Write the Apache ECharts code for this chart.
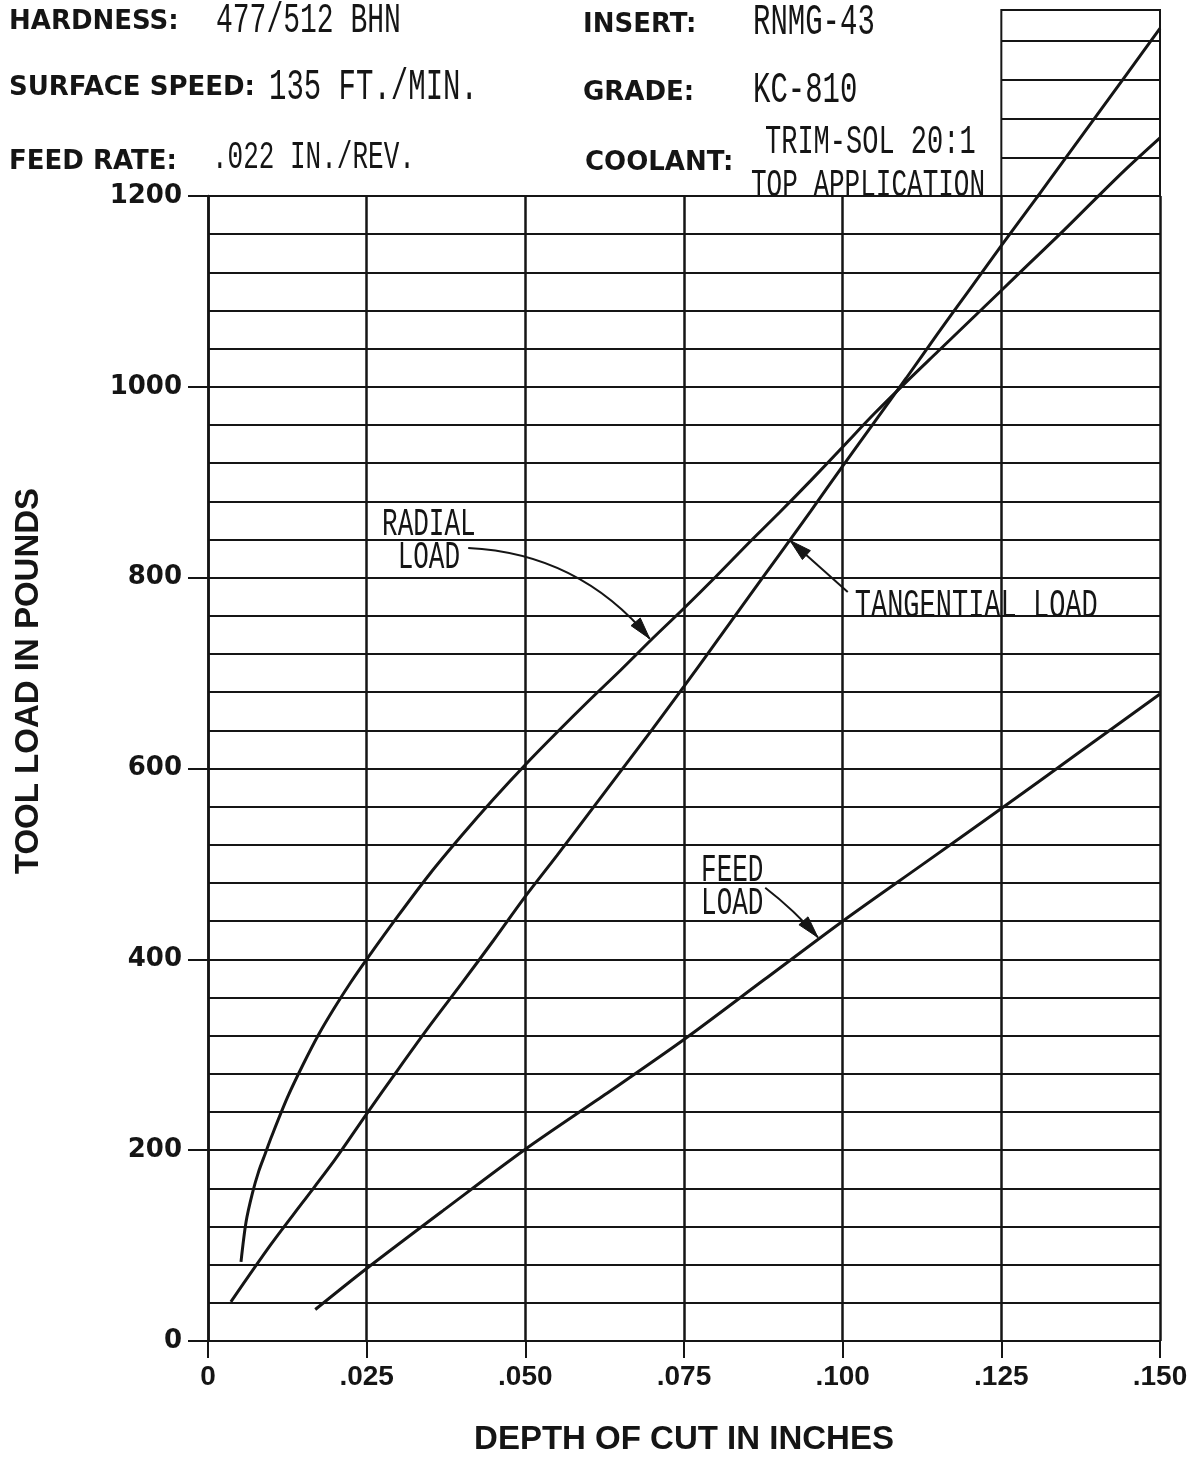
<!DOCTYPE html>
<html>
<head>
<meta charset="utf-8">
<script src="https://cdn.jsdelivr.net/npm/echarts@6/dist/echarts.min.js"></script>
<style>
  html, body { margin: 0; padding: 0; background: #ffffff; }
  #chart { width: 1198px; height: 1461px; }
</style>
</head>
<body>
<div id="chart"></div>
<script>
// Tool load (pounds) against depth of cut (inches)
const radialDepth = [0.0052, 0.0060, 0.0070, 0.0080, 0.0090, 0.0100, 0.0125, 0.0150, 0.0175, 0.0200, 0.0225, 0.025, 0.030, 0.035, 0.040, 0.045, 0.050, 0.055, 0.060, 0.065, 0.070, 0.075, 0.080, 0.085, 0.090, 0.095, 0.100, 0.105, 0.110, 0.115, 0.120, 0.125, 0.130, 0.135, 0.140, 0.145, 0.150];
const radialLoad  = [83, 125, 155, 178, 196, 214, 255, 290, 322, 350, 376, 400, 446, 490, 530, 568, 604, 638, 671, 703, 736, 768, 801, 835, 868, 902, 937, 972, 1005, 1037, 1069, 1101, 1133, 1165, 1198, 1230, 1260];

const tangentialDepth = [0.0036, 0.010, 0.015, 0.020, 0.025, 0.030, 0.035, 0.040, 0.045, 0.050, 0.055, 0.060, 0.065, 0.070, 0.075, 0.080, 0.085, 0.090, 0.095, 0.100, 0.105, 0.110, 0.115, 0.120, 0.125, 0.130, 0.135, 0.140, 0.145, 0.150];
const tangentialLoad  = [41, 102, 146, 190, 238, 285, 331, 375, 420, 466, 509, 553, 597, 641, 686, 732, 778, 824, 870, 917, 963, 1009, 1056, 1102, 1148, 1193, 1238, 1283, 1328, 1373];

const feedDepth = [0.0169, 0.025, 0.0375, 0.050, 0.0625, 0.075, 0.0875, 0.100, 0.1125, 0.125, 0.1375, 0.150];
const feedLoad  = [33, 76, 139, 201, 258, 316, 378, 440, 499, 558, 618, 678];

const specLabels = ['HARDNESS:', 'SURFACE SPEED:', 'FEED RATE:', 'INSERT:', 'GRADE:', 'COOLANT:'];
const specValues = ['477/512 BHN', '135 FT./MIN.', '.022 IN./REV.', 'RNMG-43', 'KC-810', 'TRIM-SOL 20:1', 'TOP APPLICATION'];

const depthMax = 0.150;
const loadMax = 1200;
const boxDepthMin = 0.125;   // the column that continues above 1200 lb
const boxLoadMax = 1392;

const INK = '#151515';
const BOLD_FONT = 'DejaVu Sans';
const HAND_FONT = "'Liberation Mono', 'DejaVu Sans Mono', monospace";

const pairs = (xs, ys) => xs.map((x, i) => [x, ys[i]]);

// plot frame in pixels
const plotLeft = 208, plotRight = 1160, plotTop = 196, plotBottom = 1358;
const W = 1198, H = 1461;
const boxLeft = plotLeft + (plotRight - plotLeft) * (boxDepthMin / depthMax);
const boxTop = plotBottom - (plotBottom - plotTop) * (boxLoadMax / loadMax);

const curveStyle = { color: INK, width: 3 };

function curve(name, data, grid) {
  return {
    name: name,
    type: 'line',
    data: data,
    xAxisIndex: grid === 0 ? 0 : 1,
    yAxisIndex: grid === 0 ? 0 : 2,
    showSymbol: false,
    symbol: 'none',
    smooth: 0.3,
    clip: true,
    lineStyle: curveStyle,
    itemStyle: { color: INK },
    emphasis: { disabled: true },
    z: 5
  };
}

const radial = pairs(radialDepth, radialLoad);
const tangential = pairs(tangentialDepth, tangentialLoad);
const feed = pairs(feedDepth, feedLoad);

const depthLabel = v => (Math.abs(v) < 1e-9 ? '0' : v.toFixed(3).replace(/^0/, ''));

const chart = echarts.init(document.getElementById('chart'), null, { renderer: 'canvas' });

const headerFont = { fontFamily: BOLD_FONT, fontWeight: 'bold', fontSize: 26, fill: INK };
function boldText(text, x, y) {
  return { type: 'text', x: x, y: y, silent: true,
    style: Object.assign({ text: text, align: 'left', verticalAlign: 'middle' }, headerFont) };
}
function handText(text, x, y, size, align, lineHeight) {
  return { type: 'text', x: x, y: y, scaleY: 1.5, silent: true, z: 20,
    style: { text: text, fontFamily: HAND_FONT, fontSize: size, fill: INK,
      align: align || 'left', verticalAlign: 'middle', lineHeight: lineHeight || size } };
}

const headerGraphics = [
  boldText(specLabels[0], 9, 22),
  handText(specValues[0], 216, 21, 28),
  boldText(specLabels[1], 9, 88),
  handText(specValues[1], 269, 87, 29),
  boldText(specLabels[2], 9, 162),
  handText(specValues[2], 212, 158, 26),
  boldText(specLabels[3], 583, 25),
  handText(specValues[3], 753, 22, 29),
  boldText(specLabels[4], 583, 93),
  handText(specValues[4], 753, 90, 29),
  boldText(specLabels[5], 585, 163),
  handText(specValues[5], 765, 142, 27),
  handText(specValues[6], 751, 186, 26),
  { type: 'text', x: 29, y: 681, rotation: Math.PI / 2, silent: true,
    style: { text: 'TOOL LOAD IN POUNDS', fontFamily: 'Liberation Sans', fontWeight: 'bold',
      fontSize: 33, fill: INK, align: 'center', verticalAlign: 'middle' } }
];

chart.setOption({
  animation: false,
  backgroundColor: '#ffffff',
  grid: [
    { left: plotLeft, right: W - plotRight, top: plotTop, bottom: H - plotBottom, containLabel: false },
    { left: boxLeft, right: W - plotRight, top: boxTop, bottom: H - plotTop, containLabel: false,
      show: true, borderColor: INK, borderWidth: 2, backgroundColor: 'transparent' }
  ],
  xAxis: [
    {
      type: 'value', gridIndex: 0, min: 0, max: depthMax, interval: 0.025,
      name: 'DEPTH OF CUT IN INCHES', nameLocation: 'middle', nameGap: 82,
      nameTextStyle: { fontFamily: 'Liberation Sans', fontWeight: 'bold', fontSize: 33, color: INK },
      axisLine: { show: true, onZero: false, lineStyle: { color: INK, width: 2 } },
      axisTick: { show: true, length: 17, lineStyle: { color: INK, width: 2 } },
      axisLabel: { margin: 22, formatter: depthLabel, fontFamily: 'Liberation Sans', fontWeight: 'bold', fontSize: 28, color: INK },
      splitLine: { show: true, lineStyle: { color: INK, width: 2.5 } }
    },
    {
      type: 'value', gridIndex: 1, min: boxDepthMin, max: depthMax, interval: 0.025,
      axisLine: { show: false }, axisTick: { show: false }, axisLabel: { show: false }, splitLine: { show: false }
    }
  ],
  yAxis: [
    {
      type: 'value', gridIndex: 0, min: 0, max: loadMax, interval: 40,
      axisLine: { show: true, onZero: false, lineStyle: { color: INK, width: 2.5 } },
      axisTick: { show: false }, axisLabel: { show: false },
      splitLine: { show: true, lineStyle: { color: INK, width: 2 } }
    },
    {
      type: 'value', gridIndex: 0, min: 0, max: loadMax, interval: 200, position: 'left',
      axisLine: { show: false },
      axisTick: { show: true, length: 20, lineStyle: { color: INK, width: 2 } },
      axisLabel: { margin: 26, formatter: v => String(v), fontFamily: BOLD_FONT, fontWeight: 'bold', fontSize: 26, color: INK },
      splitLine: { show: false }
    },
    {
      type: 'value', gridIndex: 1, min: loadMax, max: boxLoadMax, interval: 40,
      axisLine: { show: false }, axisTick: { show: false }, axisLabel: { show: false },
      splitLine: { show: true, lineStyle: { color: INK, width: 2 } }
    }
  ],
  series: [
    curve('Radial load', radial, 0),
    curve('Tangential load', tangential, 0),
    curve('Feed load', feed, 0),
    curve('Radial load', radial, 1),
    curve('Tangential load', tangential, 1),
    curve('Feed load', feed, 1)
  ],
  graphic: headerGraphics
});

// curve labels and their leader arrows, placed in data coordinates
const notes = [
  { text: 'RADIAL\nLOAD', at: [0.0348, 838], align: 'center', size: 26 },
  { text: 'TANGENTIAL LOAD', at: [0.1019, 770], align: 'left', size: 27 },
  { text: 'FEED\nLOAD', at: [0.0826, 476], align: 'center', size: 26 }
];
const leaders = [
  { from: [0.0410, 831], to: [0.0696, 736], bend: 0.22 },
  { from: [0.1008, 785], to: [0.0917, 839], bend: 0 },
  { from: [0.0878, 475], to: [0.0961, 423], bend: 0.05 }
];

const toPx = v => chart.convertToPixel({ gridIndex: 0 }, v);

const noteGraphics = notes.map(n => {
  const p = toPx(n.at);
  return handText(n.text, p[0], p[1], n.size, n.align, 22);
});

const leaderGraphics = [];
leaders.forEach(l => {
  const a = toPx(l.from), b = toPx(l.to);
  const cx = (a[0] + b[0]) / 2 - (a[1] - b[1]) * l.bend;
  const cy = (a[1] + b[1]) / 2 - (b[0] - a[0]) * l.bend;
  leaderGraphics.push({
    type: 'bezierCurve', silent: true, z: 15,
    shape: { x1: a[0], y1: a[1], x2: b[0], y2: b[1], cpx1: cx, cpy1: cy },
    style: { stroke: INK, lineWidth: 2, fill: null }
  });
  // arrow head along the end tangent
  let dx = b[0] - cx, dy = b[1] - cy;
  const len = Math.hypot(dx, dy) || 1;
  dx /= len; dy /= len;
  const headLen = 22, headHalf = 6;
  const bx = b[0] - dx * headLen, by = b[1] - dy * headLen;
  leaderGraphics.push({
    type: 'polygon', silent: true, z: 15,
    shape: { points: [[b[0], b[1]], [bx - dy * headHalf, by + dx * headHalf], [bx + dy * headHalf, by - dx * headHalf]] },
    style: { fill: INK, stroke: INK, lineWidth: 1 }
  });
});

chart.setOption({ graphic: headerGraphics.concat(noteGraphics, leaderGraphics) });
</script>
</body>
</html>
